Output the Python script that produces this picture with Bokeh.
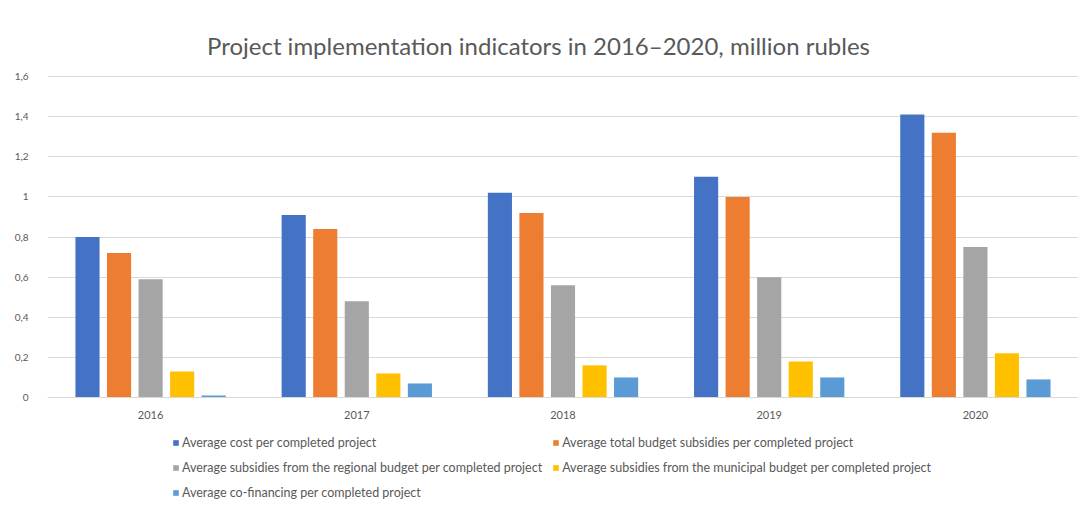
from bokeh.plotting import figure
from bokeh.models import (FactorRange, Range1d, FixedTicker, Legend, LegendItem,
                          Label, ColumnDataSource)
from bokeh.transform import dodge
from bokeh.embed import file_html
from bokeh.resources import INLINE

years = ["2016", "2017", "2018", "2019", "2020"]
avg_cost = [0.80, 0.91, 1.02, 1.10, 1.41]
avg_total_budget = [0.72, 0.84, 0.92, 1.00, 1.32]
avg_regional = [0.59, 0.48, 0.56, 0.60, 0.75]
avg_municipal = [0.13, 0.12, 0.16, 0.18, 0.22]
avg_cofinancing = [0.01, 0.07, 0.10, 0.10, 0.09]

series_names = [
    "Average cost per completed project",
    "Average total budget subsidies per completed project",
    "Average subsidies from the regional budget per completed project",
    "Average subsidies from the municipal budget per completed project",
    "Average co-financing per completed project",
]
series_keys = ["cost", "total", "regional", "municipal", "cofin"]
colors = ["#4472C4", "#ED7D31", "#A5A5A5", "#FFC000", "#5B9BD5"]

y_ticks = [0, 0.2, 0.4, 0.6, 0.8, 1.0, 1.2, 1.4, 1.6]
y_tick_labels = ["0", "0,2", "0,4", "0,6", "0,8", "1", "1,2", "1,4", "1,6"]

title_text = "Project implementation indicators in 2016\u20132020, million rubles"

source = ColumnDataSource(dict(years=years, cost=avg_cost, total=avg_total_budget,
                               regional=avg_regional, municipal=avg_municipal,
                               cofin=avg_cofinancing))

FONT = "Lato"
TXT = "#595959"

W, H = 1078, 504
TOP_PX, ZERO_PX = 76, 397          # pixel rows of 1.6 and 0
PX_PER_UNIT = (ZERO_PX - TOP_PX) / 1.6

p = figure(width=W, height=H, output_backend="svg", toolbar_location=None,
           x_range=FactorRange(*years, range_padding=0),
           y_range=Range1d(-(H - ZERO_PX) / PX_PER_UNIT, 1.6 + TOP_PX / PX_PER_UNIT),
           min_border_left=47, min_border_right=0, min_border_top=0,
           min_border_bottom=0)

offsets = [-0.306, -0.153, 0.0, 0.153, 0.306]
renderers = []
for key, off, col in zip(series_keys, offsets, colors):
    r = p.vbar(x=dodge("years", off, range=p.x_range), top=key, width=0.117,
               source=source, fill_color=col, line_color=None)
    renderers.append(r)

p.outline_line_color = None
p.xgrid.grid_line_color = None
p.ygrid.grid_line_color = "#D9D9D9"
p.ygrid.ticker = FixedTicker(ticks=y_ticks)

p.yaxis.ticker = FixedTicker(ticks=y_ticks)
p.yaxis.major_label_overrides = {t: l for t, l in zip(y_ticks, y_tick_labels)}
p.yaxis.axis_line_color = None
p.yaxis.major_tick_line_color = None
p.yaxis.minor_tick_line_color = None
p.yaxis.major_label_standoff = 13
p.yaxis.major_label_text_font = FONT
p.yaxis.major_label_text_font_size = "10px"
p.yaxis.major_label_text_color = TXT

p.xaxis.fixed_location = 0
p.xaxis.axis_line_color = "#D9D9D9"
p.xaxis.major_tick_line_color = None
p.xaxis.minor_tick_line_color = None
p.xaxis.major_label_standoff = 7
p.xaxis.major_label_text_font = FONT
p.xaxis.major_label_text_font_size = "11px"
p.xaxis.major_label_text_color = TXT

title = Label(x=2.381, y=1.6 + (TOP_PX - 45) / PX_PER_UNIT, text=title_text,
              text_align="center", text_baseline="middle", text_font=FONT,
              text_font_size="24px", text_color=TXT)
p.add_layout(title)

items = [LegendItem(label=n, renderers=[r]) for n, r in zip(series_names, renderers)]
legend = Legend(items=items, orientation="horizontal", ncols=2,
                location=(125, 4), border_line_color=None,
                background_fill_alpha=0,
                label_text_font=FONT, label_text_font_size="12.5px",
                label_text_color=TXT, glyph_width=7, glyph_height=7,
                label_height=15, spacing=10, label_standoff=3, padding=0, margin=0)
p.add_layout(legend, "center")

open("out.html", "w").write(file_html(p, INLINE))
